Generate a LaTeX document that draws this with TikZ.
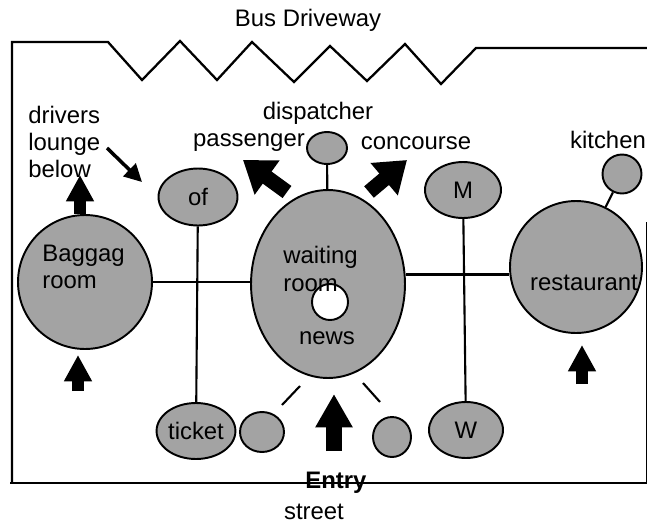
\documentclass[tikz,border=0pt]{standalone}
\usepackage{fontspec}
\setmainfont{Liberation Sans}
\usetikzlibrary{shapes.geometric,arrows.meta}

\newcommand{\plan}{\fontsize{13.6}{15.6}\selectfont}

\tikzset{
 room/.style={ellipse, draw, line width=1.1pt, fill=black!36, inner sep=0pt, font=\plan},
 word/.style={font=\plan, inner sep=0pt},
 wire/.style={line width=1.2pt},
 fat/.style={line width=6.8pt, -{Triangle[length=15pt,width=15pt]}},
 fatter/.style={line width=9pt, -{Triangle[length=19pt,width=20pt]}},
 tilted/.style={line width=8.5pt, -{Triangle[length=17pt,width=23pt]}}
}

\begin{document}
\begin{tikzpicture}[x=0.02cm, y=-0.02cm]
 \useasboundingbox (0,0) rectangle (647,525);

 \draw [line width=1.3pt] (12,483) -- (12,42) -- (108,42) -- (142,80) -- (180,41) -- (217,80)
   -- (252,42) -- (294,82) -- (330,46) -- (367,81) -- (405,44) -- (441,84) -- (476,48) -- (647,48);
 \draw [line width=1.3pt] (10,483) -- (647,483);
 \draw [line width=0.5pt] (646,222) -- (646,483);

 \node (bag) [room, minimum size=2.68cm] at (85,282) {};
 \node (wait) [room, minimum width=3.08cm, minimum height=3.76cm] at (328,284) {};
 \node (hole) [ellipse, draw, line width=1.1pt, fill=white, minimum size=0.72cm] at (330,302) {};
 \node (rest) [room, minimum size=2.64cm] at (576,267) {};
 \node (kit) [room, minimum size=0.78cm] at (622,174) {};
 \node (disp) [room, minimum width=0.8cm, minimum height=0.64cm] at (327,148) {};
 \node (of) [room, minimum width=1.58cm, minimum height=1.14cm] at (198,197) {of};
 \node (M) [room, minimum width=1.52cm, minimum height=1.12cm] at (463,190) {M};
 \node (ticket) [room, minimum width=1.56cm, minimum height=1.12cm] at (196,431) {ticket};
 \node (W) [room, minimum width=1.48cm, minimum height=1.12cm] at (466,430) {W};
 \node (lsmall) [room, minimum width=0.88cm, minimum height=0.8cm] at (262,432) {};
 \node (rsmall) [room, minimum width=0.76cm, minimum height=0.8cm] at (392,437) {};

 \node (bagname) [word, align=left, anchor=west] at (42,267) {Baggag\\room};
 \node (waitname) [word, align=left, anchor=west] at (283,269) {waiting\\room};
 \node (news) [word] at (327,338) {news};
 \node (restname) [word] at (584,283) {restaurant};

 \node (bus) [word] at (308,20) {Bus Driveway};
 \node (drivers) [word, align=left, anchor=west] at (28,142) {drivers\\lounge\\below};
 \node (dispname) [word] at (318,113) {dispatcher};
 \node (passenger) [word] at (249,143) {passenger};
 \node (concourse) [word] at (416,143) {concourse};
 \node (kitchen) [word] at (608,140) {kitchen};
 \node (entry) [word, font=\plan\bfseries] at (336,483) {Entry};
 \node (street) [word] at (314,512) {street};

 \draw [wire] (bag.east) -- (bag.east -| wait.west);
 \draw [wire] (wait.7) -- (wait.7 -| rest.west);
 \draw [wire] (of) -- (ticket);
 \draw [wire] (M) -- (W);
 \draw [wire] (disp) -- (wait);
 \draw [wire] (kit) -- (rest);

 \coordinate (sl1) at (300,386);
 \coordinate (sl2) at (282,405);
 \coordinate (sr1) at (363,383);
 \coordinate (sr2) at (380,402);
 \draw [wire] (sl1) -- (sl2);
 \draw [wire] (sr1) -- (sr2);

 \coordinate (bagup1) at (80,214);
 \coordinate (bagup2) at (80,175);
 \coordinate (bagin1) at (78,391);
 \coordinate (bagin2) at (78,355);
 \coordinate (restin1) at (582,384);
 \coordinate (restin2) at (582,345);
 \coordinate (entry1) at (334,451);
 \coordinate (entry2) at (334,394);
 \coordinate (pass1) at (287,192);
 \coordinate (pass2) at (243,160);
 \coordinate (conc1) at (369,192);
 \coordinate (conc2) at (407,160);
 \coordinate (lounge1) at (107,148);
 \coordinate (lounge2) at (142,182);

 \draw [fat] (bagup1) -- (bagup2);
 \draw [fat] (bagin1) -- (bagin2);
 \draw [fat] (restin1) -- (restin2);
 \draw [fatter] (entry1) -- (entry2);
 \draw [tilted] (pass1) -- (pass2);
 \draw [tilted] (conc1) -- (conc2);
 \draw [line width=2pt, -{Triangle[length=10pt,width=10pt]}] (lounge1) -- (lounge2);

\end{tikzpicture}
\end{document}
